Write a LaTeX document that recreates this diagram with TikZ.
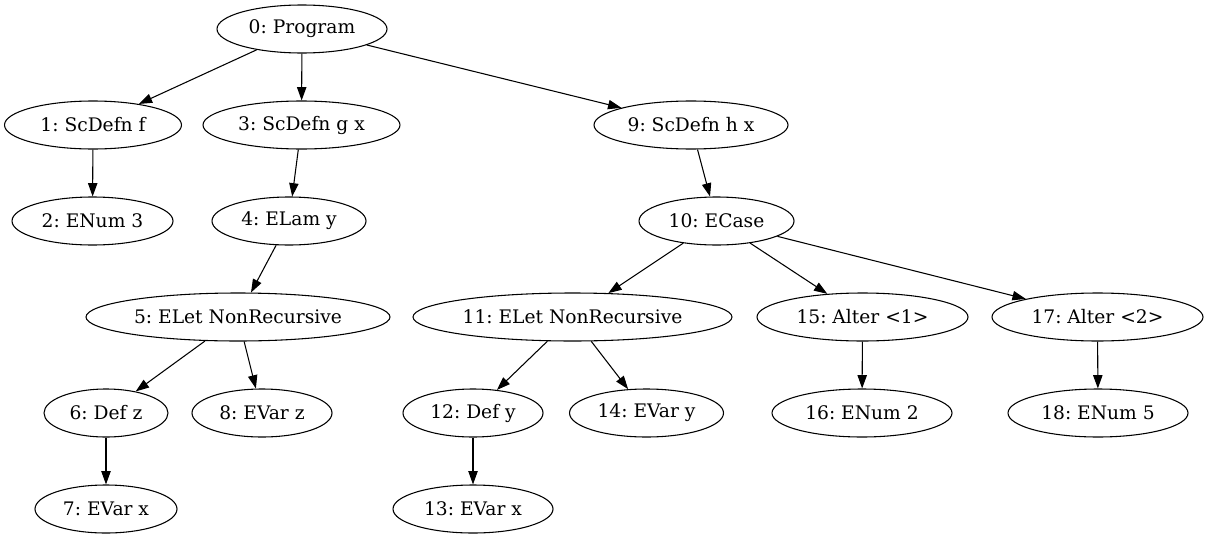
\documentclass[tikz,border=0pt]{standalone}
\usepackage{fontspec}
\setmainfont{DejaVu Serif}
\usetikzlibrary{arrows.meta,shapes.geometric}
\frenchspacing
\begin{document}
\begin{tikzpicture}[x=0.75pt,y=-0.75pt,
  tn/.style={draw, ellipse, inner sep=0pt, minimum height=36pt, line width=0.8pt,
    font=\fontsize{14}{16}\selectfont},
  rw/.style={minimum width=#1*1.5pt},
  ed/.style={line width=0.8pt, -{Triangle[length=10pt,width=7pt]}}]
\useasboundingbox (0,0) rectangle (1209,539);
\node[tn,rw=85] (n0) at (302,29) {0: Program};
\node[tn,rw=88.5] (n1) at (93,125) {1: ScDefn f};
\node[tn,rw=80.5] (n2) at (92.5,221) {2: ENum 3};
\node[tn,rw=98.5] (n3) at (301.5,125) {3: ScDefn g x};
\node[tn,rw=77] (n4) at (289,221) {4: ELam y};
\node[tn,rw=152] (n5) at (238,317) {5: ELet NonRecursive};
\node[tn,rw=62] (n6) at (106,413) {6: Def z};
\node[tn,rw=71] (n7) at (106,509) {7: EVar x};
\node[tn,rw=70] (n8) at (262,413) {8: EVar z};
\node[tn,rw=97] (n9) at (691,125) {9: ScDefn h x};
\node[tn,rw=77.5] (n10) at (716.5,221) {10: ECase};
\node[tn,rw=159.5] (n11) at (572.5,317) {11: ELet NonRecursive};
\node[tn,rw=70] (n12) at (473,413) {12: Def y};
\node[tn,rw=80] (n13) at (473,509) {13: EVar x};
\node[tn,rw=77] (n14) at (646.5,413) {14: EVar y};
\node[tn,rw=105.5] (n15) at (862.5,317) {15: Alter <1>};
\node[tn,rw=90] (n16) at (862,413) {16: ENum 2};
\node[tn,rw=105.5] (n17) at (1097.5,317) {17: Alter <2>};
\node[tn,rw=90] (n18) at (1098,413) {18: ENum 5};
\draw[ed] (n0) -- (n1);
\draw[ed] (n0) -- (n3);
\draw[ed] (n0) -- (n9);
\draw[ed] (n1) -- (n2);
\draw[ed] (n3) -- (n4);
\draw[ed] (n4) -- (n5);
\draw[ed] (n5) -- (n6);
\draw[ed] (n5) -- (n8);
\draw[ed] (n6) -- (n7);
\draw[ed] (n9) -- (n10);
\draw[ed] (n10) -- (n11);
\draw[ed] (n10) -- (n15);
\draw[ed] (n10) -- (n17);
\draw[ed] (n11) -- (n12);
\draw[ed] (n11) -- (n14);
\draw[ed] (n12) -- (n13);
\draw[ed] (n15) -- (n16);
\draw[ed] (n17) -- (n18);
\end{tikzpicture}
\end{document}
